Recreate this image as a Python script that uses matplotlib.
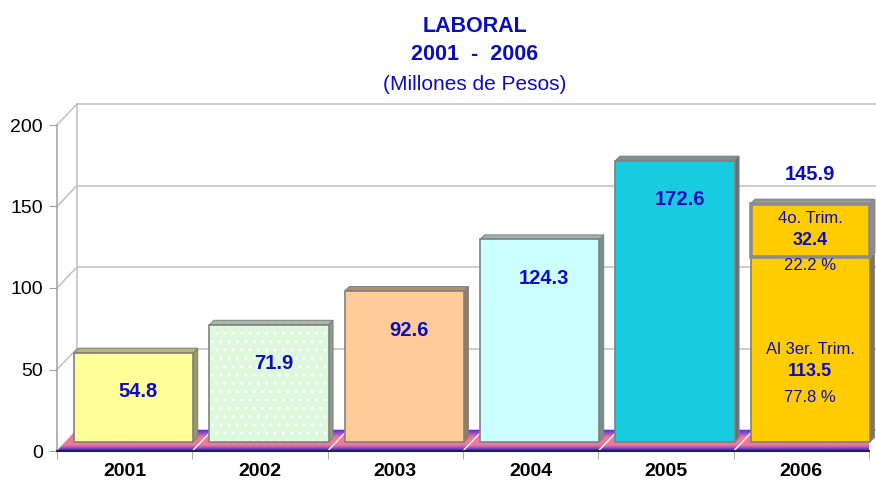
import matplotlib.pyplot as plt
import numpy as np
from matplotlib.colors import LinearSegmentedColormap
from matplotlib.patches import Polygon, Rectangle

# Data
years = ["2001", "2002", "2003", "2004", "2005", "2006"]
values = [54.8, 71.9, 92.6, 124.3, 172.6]
q3_value = 113.5
q4_value = 32.4
q3_pct = 77.8
q4_pct = 22.2
total_2006 = 145.9
yticks = [0, 50, 100, 150, 200]

# Styles
fills = ["#FFFF99", "#DDF8DD", "#FFCC99", "#CCFFFF", "#19CBE0"]
tops = ["#B8B874", "#A8B8A8", "#B09070", "#9AB4B4", "#7C9094"]
sides = ["#999966", "#8C9C8C", "#9A7A5A", "#7A8C8C", "#607478"]
gold = "#FFCC00"
blue = "#0C0CC0"
grid_c = "#C0C0C0"

plt.rcParams["font.family"] = ["Liberation Sans", "DejaVu Sans"]
plt.rcParams["hatch.linewidth"] = 1.0

# pixel -> data conversion (front plane: 135.33 px per category, 1.63 px per unit)
SX, SY = 135.33, 1.63
DX, DY = 20 / SX, 21 / SY     # back wall depth
BX, BY = 9 / SX, 9 / SY       # bar front plane
TX, TY = 4.5 / SX, 4.5 / SY   # bar thickness
W = 0.88

fig = plt.figure(figsize=(8.76, 4.87), dpi=100)
ax = fig.add_axes([57 / 876, 36 / 487, 812 / 876, 326 / 487])


def box(x0, y0, y1, face, top, side, edge="#808080", lw=1.2, hatch=None, z=3):
    bx0, by0, by1 = x0 + BX, y0 + BY, y1 + BY
    ax.add_patch(Polygon([(bx0 + W, by0), (bx0 + W + TX, by0 + TY),
                          (bx0 + W + TX, by1 + TY), (bx0 + W, by1)],
                         fc=side, ec=edge, lw=lw * 0.6, zorder=z, clip_on=False))
    ax.add_patch(Polygon([(bx0, by1), (bx0 + W, by1), (bx0 + W + TX, by1 + TY),
                          (bx0 + TX, by1 + TY)],
                         fc=top, ec=edge, lw=lw * 0.6, zorder=z, clip_on=False))
    if hatch:
        ax.add_patch(Rectangle((bx0, by0), W, y1 - y0, fc=face, ec="white",
                               lw=0, hatch=hatch, zorder=z + 0.1, clip_on=False))
        face = "none"
    ax.add_patch(Rectangle((bx0, by0), W, y1 - y0, fc=face, ec=edge, lw=lw,
                           zorder=z + 0.2, clip_on=False))


n = len(years)

# back wall grid + left wall diagonals
for t in yticks:
    ax.plot([0, DX], [t, t + DY], color=grid_c, lw=1.1, zorder=1, clip_on=False)
    ax.plot([DX, n + DX + 1], [t + DY, t + DY], color=grid_c, lw=1.1, zorder=1,
            clip_on=False)
ax.plot([DX, DX], [DY, 200 + DY], color=grid_c, lw=1.1, zorder=1, clip_on=False)

# floor with gradient
floor = Polygon([(0, 0), (n, 0), (n + DX, DY), (DX, DY)], fc="none", ec="none",
                zorder=2, clip_on=False)
ax.add_patch(floor)
cmap = LinearSegmentedColormap.from_list(
    "floor", [(0, "#5A30C8"), (0.15, "#9A50C8"), (0.35, "#F27898"),
              (0.72, "#F27898"), (0.88, "#7E48CC"), (1, "#1E1E70")])
im = ax.imshow(np.linspace(0, 1, 64).reshape(-1, 1), cmap=cmap, aspect="auto",
               extent=(0, n + DX, 0, DY), origin="upper", zorder=2,
               interpolation="bilinear")
im.set_clip_path(floor)
for i in range(1, n):
    ax.plot([i, i + DX], [0, DY], color="white", lw=1, zorder=2.2, clip_on=False)

# bars 2001-2005
for i, v in enumerate(values):
    x0 = i + (1 - W) / 2
    box(x0, 0, v, fills[i], tops[i], sides[i], hatch=".." if i == 1 else None)
    ax.text(i + 0.5 + BX + 0.035, v - 24 + BY, f"{v:.1f}", ha="center", va="center",
            fontsize=14.5, fontweight="bold", color=blue, zorder=10)

# 2006 stacked bar
i6 = n - 1
x0 = i6 + (1 - W) / 2
box(x0, 0, q3_value, gold, gold, "#8C7A30")
box(x0, q3_value, total_2006, gold, "#A0A0A0", "#8C8C8C", edge="#8C8C8C", lw=2.6,
    z=4)
cx = i6 + 0.5 + BX
txt = dict(ha="center", va="center", color=blue, zorder=10)
ax.text(cx, total_2006 + 18 + BY, f"{total_2006:.1f}", fontsize=14.5,
        fontweight="bold", **txt)
ax.text(cx, total_2006 - 8.5 + BY, "4o. Trim.", fontsize=12, **txt)
ax.text(cx, total_2006 - 22 + BY, f"{q4_value:.1f}", fontsize=13,
        fontweight="bold", **txt)
ax.text(cx, q3_value - 5 + BY, f"{q4_pct:.1f} %", fontsize=12, **txt)
ax.text(cx, q3_value - 57 + BY, "Al 3er. Trim.", fontsize=12, **txt)
ax.text(cx, q3_value - 70.5 + BY, f"{q3_value:.1f}", fontsize=13,
        fontweight="bold", **txt)
ax.text(cx, q3_value - 86 + BY, f"{q3_pct:.1f} %", fontsize=12, **txt)

# axes
ax.set_xlim(0, n)
ax.set_ylim(0, 200)
for s in ["top", "right"]:
    ax.spines[s].set_visible(False)
ax.spines["left"].set_color("#A0A0A0")
ax.spines["left"].set_linewidth(1.1)
ax.spines["bottom"].set_color("#1E1E60")
ax.spines["bottom"].set_linewidth(1.5)
ax.spines["bottom"].set_zorder(2.5)
ax.set_yticks(yticks)
ax.set_yticklabels([str(t) for t in yticks], fontsize=14)
ax.tick_params(axis="y", length=6, color="#A0A0A0", pad=4)
ax.set_xticks(np.arange(n) + 0.5)
ax.set_xticklabels(years, fontsize=14, fontweight="bold")
ax.set_xticks(np.arange(n + 1), minor=True)
ax.tick_params(axis="x", which="major", length=0, pad=9)
ax.tick_params(axis="x", which="minor", length=6, color="#A0A0A0")

# title
fig.text(475 / 876, 1 - 26 / 487, "LABORAL", ha="center", va="center",
         fontsize=15.5, fontweight="bold", color=blue)
fig.text(475 / 876, 1 - 55 / 487, "2001  -  2006", ha="center", va="center",
         fontsize=15.5, fontweight="bold", color=blue)
fig.text(475 / 876, 1 - 85 / 487, "(Millones de Pesos)", ha="center", va="center",
         fontsize=15, color=blue)

fig.savefig("out.png", dpi=100)
